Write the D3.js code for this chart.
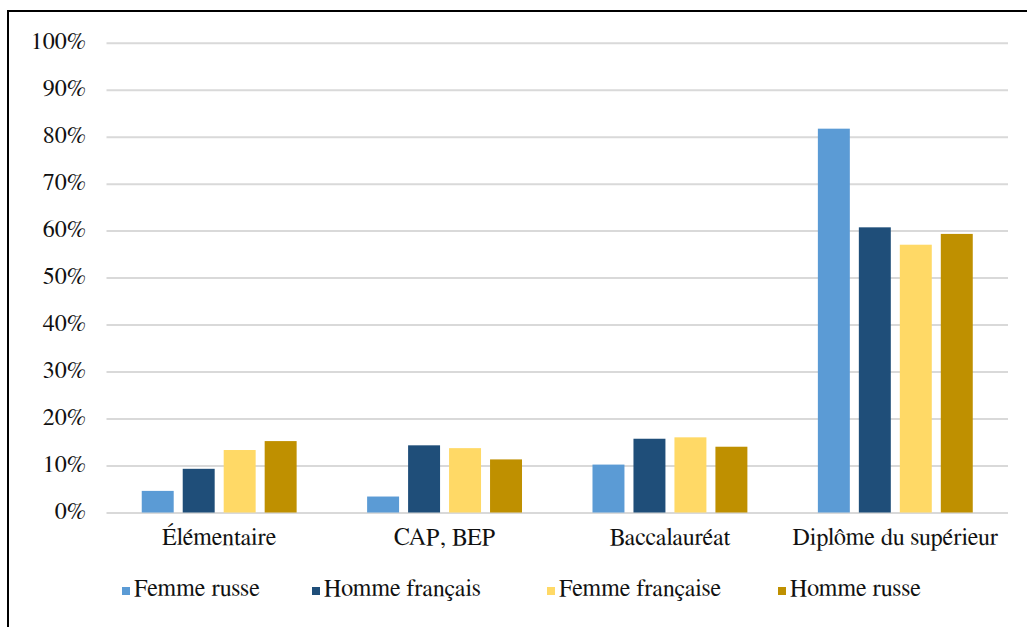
<!DOCTYPE html>
<html>
<head>
<meta charset="utf-8">
<script src="https://cdn.jsdelivr.net/npm/d3@7"></script>
<style>
  body { margin: 0; background: #fff; }
  svg { display: block; }
</style>
</head>
<body>
<svg id="chart" width="1027" height="627"></svg>
<script>
// categories and series, values in %
const categories = ["Élémentaire", "CAP, BEP", "Baccalauréat", "Diplôme du supérieur"];
const seriesNames = ["Femme russe", "Homme français", "Femme française", "Homme russe"];
const femmeRusse = [4.6, 3.4, 10.2, 81.7];
const hommeFrancais = [9.3, 14.3, 15.7, 60.7];
const femmeFrancaise = [13.3, 13.7, 16.0, 57.0];
const hommeRusse = [15.2, 11.3, 14.0, 59.3];
const yTicks = [0, 10, 20, 30, 40, 50, 60, 70, 80, 90, 100];

const colors = ["#5b9bd5", "#1f4e79", "#ffd966", "#bf9000"];
const values = [femmeRusse, hommeFrancais, femmeFrancaise, hommeRusse];
// Liberation Serif turns into a sans face at 24px here, FreeSerif does not
const serif = "FreeSerif, Liberation Serif, serif";
const fs = 24;

// build table the grouped bars need
const rows = categories.map((c, i) => {
  let r = { cat: c };
  seriesNames.forEach((s, j) => r[s] = values[j][i]);
  return r;
});

const svg = d3.select("#chart");

// frame (runs off the right and bottom edge like the source)
svg.append("rect")
  .attr("x", 8).attr("y", 11)
  .attr("width", 1040).attr("height", 640)
  .attr("fill", "none")
  .attr("stroke", "#000")
  .attr("stroke-width", 2);

const left = 106.5, right = 1008;
const y = d3.scaleLinear().domain([0, 100]).range([512.5, 42.7]);
const x0 = d3.scaleBand().domain(categories).range([left, right]).padding(0);
const x1 = d3.scaleBand().domain(seriesNames).range([0, x0.bandwidth()])
  .paddingInner(0.22).paddingOuter(0.86);

// y axis with gridlines
const yAxis = svg.append("g")
  .attr("transform", `translate(${left},0)`)
  .call(d3.axisLeft(y).tickValues(yTicks).tickFormat(d => d + "%").tickSize(-(right - left)).tickPadding(20.5));
yAxis.attr("font-family", serif).attr("font-size", fs);
yAxis.select(".domain").remove();
yAxis.selectAll(".tick line").attr("stroke", "#d9d9d9").attr("stroke-width", 2);
yAxis.selectAll(".tick text")
  .attr("font-family", serif)
  .attr("font-size", fs)
  .attr("dy", 6)
  .attr("fill", "#111");

// bars
svg.append("g").selectAll("g")
  .data(rows)
  .join("g")
  .attr("transform", d => `translate(${x0(d.cat)},0)`)
  .selectAll("rect")
  .data(d => seriesNames.map((s, j) => ({ s: s, v: d[s], c: colors[j] })))
  .join("rect")
  .attr("x", d => x1(d.s))
  .attr("width", x1.bandwidth())
  .attr("y", d => y(d.v))
  .attr("height", d => y(0) - y(d.v))
  .attr("fill", d => d.c);

// category labels
const xAxis = svg.append("g")
  .attr("transform", `translate(0,${y(0)})`)
  .call(d3.axisBottom(x0).tickSize(0).tickPadding(0));
xAxis.attr("font-family", serif).attr("font-size", fs);
xAxis.select(".domain").remove();
xAxis.selectAll(".tick text")
  .attr("font-family", serif)
  .attr("font-size", fs)
  .attr("y", 32)
  .attr("dy", 0)
  .attr("fill", "#111");

// legend
const legendX = [122, 312, 547, 778];
const legend = svg.append("g").selectAll("g")
  .data(seriesNames)
  .join("g")
  .attr("transform", (d, i) => `translate(${legendX[i]},596)`);
legend.append("rect")
  .attr("x", 0).attr("y", -9)
  .attr("width", 8).attr("height", 8)
  .attr("fill", (d, i) => colors[i]);
legend.append("text")
  .attr("x", 12)
  .attr("font-family", serif)
  .attr("font-size", fs)
  .attr("fill", "#111")
  .text(d => d);
</script>
</body>
</html>
